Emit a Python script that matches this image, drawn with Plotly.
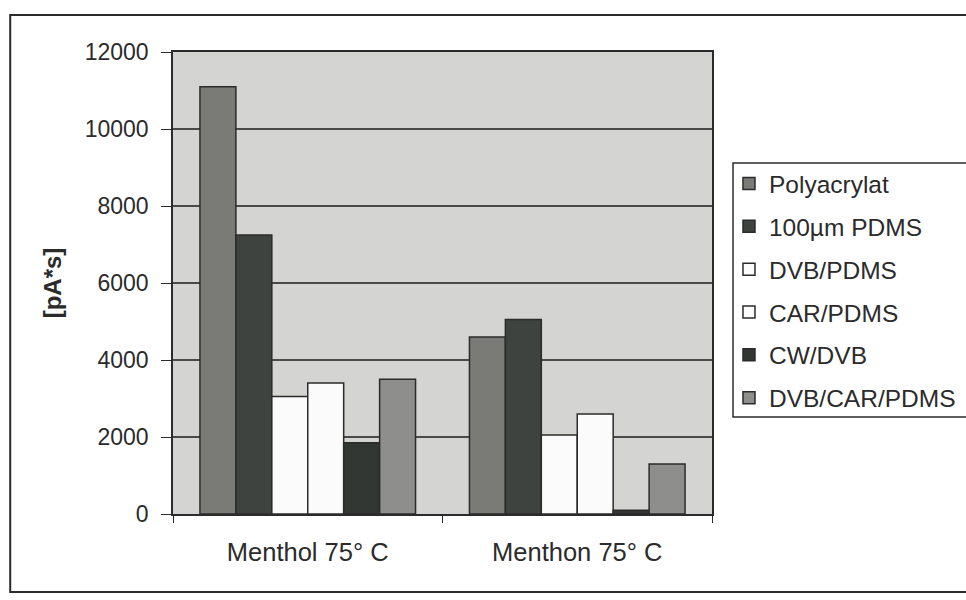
import plotly.graph_objects as go

# Extracted peak areas per SPME fibre coating
categories = ["Menthol 75° C", "Menthon 75° C"]
series_names = ["Polyacrylat", "100µm PDMS", "DVB/PDMS", "CAR/PDMS", "CW/DVB", "DVB/CAR/PDMS"]
polyacrylat = [11100, 4600]
pdms_100 = [7250, 5050]
dvb_pdms = [3050, 2050]
car_pdms = [3400, 2600]
cw_dvb = [1850, 100]
dvb_car_pdms = [3500, 1300]
y_ticks = [0, 2000, 4000, 6000, 8000, 10000, 12000]

series_values = [polyacrylat, pdms_100, dvb_pdms, car_pdms, cw_dvb, dvb_car_pdms]
fill_colors = ["#7a7a77", "#3e433f", "#fbfbfb", "#fbfbfb", "#323733", "#8e8e8c"]

font_family = "Arial, Liberation Sans, sans-serif"
ink = "#2b2b2b"

fig = go.Figure()
for i, (name, vals, col) in enumerate(zip(series_names, series_values, fill_colors)):
    fig.add_trace(go.Bar(
        name=name,
        x=categories,
        y=vals,
        marker=dict(color=col, line=dict(color=ink, width=1.5)),
        legendgroup=f"g{i}",
    ))

fig.update_layout(
    width=966,
    height=600,
    barmode="group",
    bargap=0.2,
    bargroupgap=0,
    paper_bgcolor="white",
    plot_bgcolor="#d4d4d2",
    margin=dict(l=173, r=254, t=52, b=86, autoexpand=False),
    font=dict(family=font_family, size=23, color=ink),
    showlegend=True,
    legend=dict(
        x=1.0315,
        xanchor="left",
        y=0.764,
        yanchor="top",
        bgcolor="rgba(0,0,0,0)",
        borderwidth=0,
        font=dict(family=font_family, size=24.5, color=ink),
        tracegroupgap=8,
        itemwidth=30,
    ),
    xaxis=dict(
        type="category",
        tickson="boundaries",
        ticks="outside",
        ticklen=7,
        tickcolor=ink,
        showline=True,
        linecolor=ink,
        linewidth=1.5,
        mirror=True,
        showgrid=False,
        ticklabelstandoff=15,
        tickfont=dict(family=font_family, size=25.5, color=ink),
    ),
    yaxis=dict(
        range=[0, 12000],
        tickvals=y_ticks,
        ticktext=[str(v) for v in y_ticks],
        ticks="outside",
        ticklen=10,
        tickcolor=ink,
        showline=True,
        linecolor=ink,
        linewidth=1.5,
        mirror=True,
        showgrid=True,
        gridcolor="#4a4a4a",
        gridwidth=1.5,
        zeroline=False,
        ticklabelstandoff=8,
        tickfont=dict(family=font_family, size=23, color=ink),
        title=dict(text="<b>[pA*s]</b>", font=dict(family=font_family, size=24, color=ink), standoff=16),
    ),
    shapes=[
        # outer chart frame
        dict(type="rect", xref="paper", yref="paper",
             x0=-0.302, x1=1.49, y0=-0.169, y1=1.080,
             line=dict(color=ink, width=2), fillcolor="rgba(0,0,0,0)", layer="above"),
        # legend frame
        dict(type="rect", xref="paper", yref="paper",
             x0=1.039, x1=1.49, y0=0.210, y1=0.760,
             line=dict(color=ink, width=1.5), fillcolor="white", layer="below"),
    ],
)

fig.write_html("out.html")
